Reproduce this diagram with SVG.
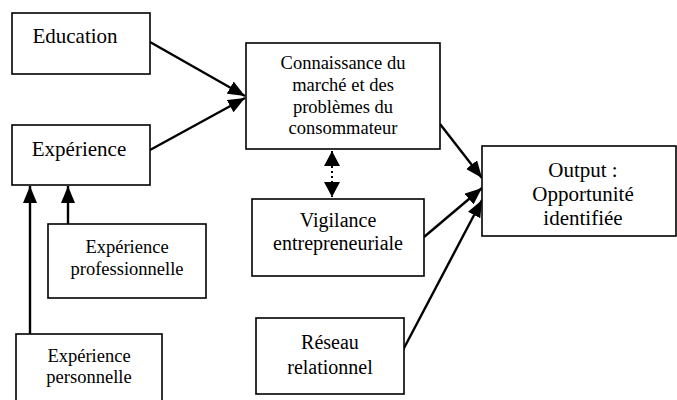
<svg xmlns="http://www.w3.org/2000/svg" width="677" height="400" viewBox="0 0 677 400">
<style>
.box{fill:#fff;stroke:#000;stroke-width:1.6}
text{font-family:'Liberation Serif','DejaVu Serif',serif;fill:#000;text-anchor:middle}
.l{fill:none;stroke:#000;stroke-width:2.4}
.d{fill:none;stroke:#000;stroke-width:2;stroke-dasharray:2 3}
</style>
<defs>
<marker id="ah" markerUnits="userSpaceOnUse" markerWidth="18" markerHeight="14" refX="17" refY="7" orient="auto">
<path d="M0,0 L17,7 L0,14 Z" fill="#000"/>
</marker>
<marker id="ahs" markerUnits="userSpaceOnUse" markerWidth="16" markerHeight="16" refX="15" refY="8" orient="auto-start-reverse">
<path d="M0,0 L15,8 L0,16 Z" fill="#000"/>
</marker>
</defs>
<g id="connectors">
<line class="l" x1="150" y1="42" x2="245" y2="96" marker-end="url(#ah)"/>
<line class="l" x1="150" y1="150" x2="245" y2="98" marker-end="url(#ah)"/>
<line class="l" x1="68" y1="224" x2="68" y2="186" marker-end="url(#ah)"/>
<line class="l" x1="30" y1="334" x2="30" y2="186" marker-end="url(#ah)"/>
<line class="d" x1="332" y1="151" x2="332" y2="197" marker-start="url(#ahs)" marker-end="url(#ahs)"/>
<line class="l" x1="440" y1="124" x2="482" y2="178" marker-end="url(#ah)"/>
<line class="l" x1="424" y1="237" x2="482" y2="188" marker-end="url(#ah)"/>
<line class="l" x1="403" y1="350" x2="482" y2="200" marker-end="url(#ah)"/>
</g>
<g id="education">
<rect class="box" x="12" y="13" width="138" height="61"/>
<text x="75" y="43" font-size="21">Education</text>
</g>
<g id="experience">
<rect class="box" x="12" y="125" width="138" height="60"/>
<text x="79" y="156" font-size="21">Expérience</text>
</g>
<g id="connaissance">
<rect class="box" x="246" y="43" width="194" height="106"/>
<text x="343" y="69" font-size="18.5">Connaissance du</text>
<text x="343" y="91" font-size="18.5">marché et des</text>
<text x="343" y="113" font-size="18.5">problèmes du</text>
<text x="343" y="134" font-size="18.5">consommateur</text>
</g>
<g id="vigilance">
<rect class="box" x="252" y="199" width="172" height="77"/>
<text x="338" y="227" font-size="20">Vigilance</text>
<text x="338" y="250" font-size="20">entrepreneuriale</text>
</g>
<g id="output">
<rect class="box" x="482" y="146" width="194" height="90"/>
<text x="583" y="177" font-size="21">Output :</text>
<text x="583" y="201" font-size="21">Opportunité</text>
<text x="583" y="225" font-size="21">identifiée</text>
</g>
<g id="exp-pro">
<rect class="box" x="48" y="224" width="158" height="74"/>
<text x="127" y="253" font-size="18.5">Expérience</text>
<text x="127" y="275" font-size="18.5">professionnelle</text>
</g>
<g id="exp-perso">
<rect class="box" x="16" y="334" width="146" height="80"/>
<text x="89" y="362" font-size="18.5">Expérience</text>
<text x="89" y="383" font-size="18.5">personnelle</text>
</g>
<g id="reseau">
<rect class="box" x="256" y="318" width="148" height="76"/>
<text x="330" y="349" font-size="20">Réseau</text>
<text x="330" y="374" font-size="20">relationnel</text>
</g>
</svg>
